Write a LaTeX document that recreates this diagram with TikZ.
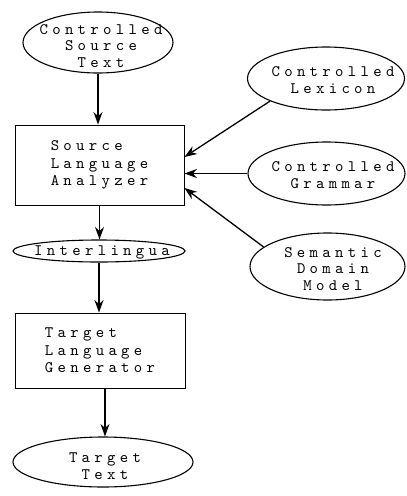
\documentclass[tikz,border=0pt]{standalone}
\usepackage{fontspec}
\newfontfamily\diagfont{lmmono10-regular.otf}[LetterSpace=27]
\usetikzlibrary{shapes.geometric,arrows.meta}
\begin{document}
\begin{tikzpicture}[x=1pt,y=-1pt,
  lbl/.style={font=\diagfont\fontsize{16}{16.5}\selectfont, inner sep=0pt, align=center},
  oval/.style={draw, ellipse, line width=1.1pt, inner sep=0pt},
  stepbox/.style={draw, rectangle, line width=0.9pt, inner sep=0pt, align=left,
    font=\diagfont\fontsize{16}{17.5}\selectfont},
  arr/.style={-{Stealth[length=12.5pt,width=9pt]}, line width=1.3pt}]
\useasboundingbox (0,0) rectangle (407,496);
% left column
\node[oval, minimum width=150pt, minimum height=61pt] (src) at (98,42.5) {};
\node[lbl] (srct) at (101,46) {Controlled\\Source\\Text};
\node[stepbox, minimum width=169pt, minimum height=80pt] (box1) at (99.5,165) {Source\\Language\\Analyzer};
\node[oval, minimum width=172pt, minimum height=22pt] (inter) at (99,251) {};
\node[lbl] (intert) at (102,252) {Interlingua};
\node[stepbox, minimum width=170pt, minimum height=75pt] (box2) at (100,350.5) {Target\\Language\\Generator};
\node[oval, minimum width=180pt, minimum height=50pt] (tgt) at (103,462) {};
\node[lbl] (tgtt) at (105,466) {Target\\Text};
% right column
\node[oval, minimum width=157pt, minimum height=63pt] (lex) at (326,78.5) {};
\node[lbl] (lext) at (333,80) {Controlled\\Lexicon};
\node[oval, minimum width=157pt, minimum height=63pt] (gram) at (326.5,173.5) {};
\node[lbl] (gramt) at (333,175) {Controlled\\Grammar};
\node[oval, minimum width=155pt, minimum height=67pt] (sem) at (327.5,266.5) {};
\node[lbl] (semt) at (333,269) {Semantic\\Domain\\Model};
% connectors
\draw[arr] (src.south) -- (src.south |- box1.north);
\draw[arr] (box1.south) -- (box1.south |- inter.north);
\draw[arr] (inter.south) -- (inter.south |- box2.north);
\draw[arr] ([xshift=5pt]box2.south) -- ([xshift=5pt]box2.south |- tgt.north);
\draw[arr] (lex.202) -- ([yshift=8pt]box1.east);
\draw[arr] (gram.west) -- (gram.west -| box1.east);
\draw[arr] (sem.163) -- ([yshift=-23pt]box1.east);
\end{tikzpicture}
\end{document}
